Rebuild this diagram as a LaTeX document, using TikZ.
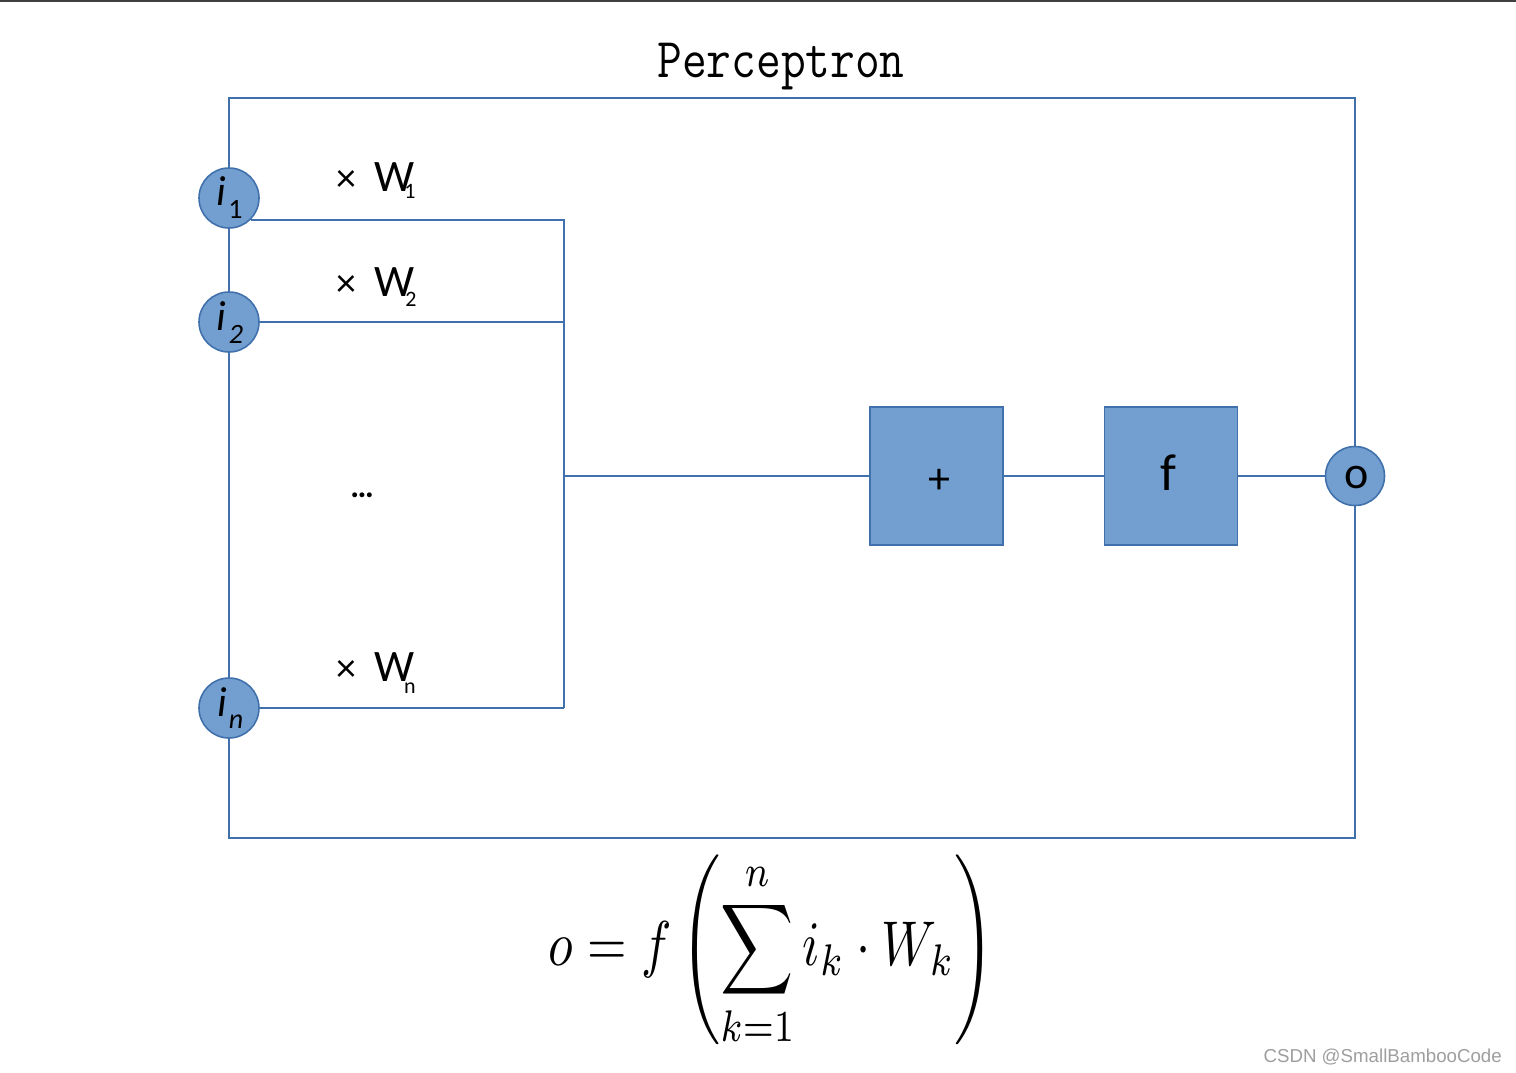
\documentclass[tikz,border=0pt]{standalone}
\usepackage[no-math]{fontspec}
\usepackage{graphicx}
\setmainfont{Carlito}
\newfontfamily\wmfont{Liberation Sans}
\definecolor{pfill}{RGB}{114,159,207}
\definecolor{pstroke}{RGB}{65,113,172}
\newcommand{\wlab}{×\kern18pt{\fontsize{45}{45}\selectfont W}}
\begin{document}
\begin{tikzpicture}[x=1pt,y=-1pt,
  wire/.style={draw=pstroke, line width=1.6pt},
  neuron/.style={circle, draw=pstroke, fill=pfill, line width=1.6pt, minimum size=60pt, inner sep=0pt},
  opbox/.style={rectangle, draw=pstroke, fill=pfill, line width=1.6pt, minimum width=133pt, minimum height=138pt, inner sep=0pt},
  lab/.style={inner sep=0pt, text=black}]
\useasboundingbox (0,0) rectangle (1516,1072);
% top rule
\coordinate (tl) at (0,1);
\coordinate (tr) at (1516,1);
\draw[line width=2pt, draw=black!75] (tl) -- (tr);
% title
\node[lab, font=\ttfamily\fontsize{48}{48}\selectfont, anchor=base] (title) at (781,77) {\scalebox{1}[1.17]{Perceptron}};
% frame
\node[draw=pstroke, line width=1.6pt, minimum width=1126pt, minimum height=740pt, inner sep=0pt] (frame) at (792,468) {};
% nodes
\node[neuron] (i1) at (229,198) {};
\node[neuron] (i2) at (229,322) {};
\node[neuron] (in) at (229,708) {};
\node[neuron, minimum size=59pt] (o) at (1355,476) {};
\node[opbox] (plus) at (936.5,476) {};
\node[opbox] (fbox) at (1171,476) {};
% junction coordinates
\coordinate (j1) at (564,219);
\coordinate (jn) at (564,708);
\coordinate (jm) at (564,476);
% wires
\draw[wire] (i1.-45) -- (i1.-45 -| j1) -- (jn);
\draw[wire] (i2.east) -- (i2.east -| j1);
\draw[wire] (in.east) -- (jn);
\draw[wire] (jm) -- (plus.west);
\draw[wire] (plus.east) -- (fbox.west);
\draw[wire] (fbox.east) -- (o.west);
% circle labels
\node[lab, font=\fontsize{42}{42}\selectfont\itshape, anchor=base] (i1t) at (221,205) {i};
\node[lab, font=\fontsize{28}{28}\selectfont, anchor=base] (i1s) at (235.5,218) {1};
\node[lab, font=\fontsize{42}{42}\selectfont\itshape, anchor=base] (i2t) at (221,330) {i};
\node[lab, font=\fontsize{28}{28}\selectfont\itshape, anchor=base] (i2s) at (236,343) {2};
\node[lab, font=\fontsize{42}{42}\selectfont\itshape, anchor=base] (int) at (222,716) {i};
\node[lab, font=\fontsize{28}{28}\selectfont\itshape, anchor=base] (ins) at (236,728) {n};
% weights
\node[lab, font=\fontsize{40}{40}\selectfont, anchor=base west] (w1) at (336,191) {\wlab};
\node[lab, font=\fontsize{22}{22}\selectfont, anchor=base] (w1s) at (410,198) {1};
\node[lab, font=\fontsize{40}{40}\selectfont, anchor=base west] (w2) at (336,296) {\wlab};
\node[lab, font=\fontsize{22}{22}\selectfont, anchor=base] (w2s) at (411,306) {2};
\node[lab, font=\fontsize{40}{40}\selectfont, anchor=base west] (wn) at (336,681) {\wlab};
\node[lab, font=\fontsize{22}{22}\selectfont, anchor=base] (wns) at (410,693) {n};
\node[lab, font=\bfseries\fontsize{33}{33}\selectfont, anchor=base] (dots) at (362,497) {…};
% operator labels
\node[lab, font=\fontsize{44}{44}\selectfont, anchor=base] (plust) at (939,493) {+};
\node[lab, font=\fontsize{52}{52}\selectfont, anchor=base] (ft) at (1168,490) {f};
\node[lab, font=\fontsize{46}{46}\selectfont, anchor=base] (ot) at (1357,488) {o};
% formula
\node[lab] (formula) at (772,951.5) {\resizebox*{446pt}{193pt}{$\displaystyle o=f\left(\sum_{k=1}^{n} i_k\cdot W_k\right)$}};
% watermark
\node[lab, font=\wmfont\fontsize{18.7}{18.7}\selectfont, text=black!38, anchor=base east] (wm) at (1502,1062) {CSDN @SmallBambooCode};
\end{tikzpicture}
\end{document}
